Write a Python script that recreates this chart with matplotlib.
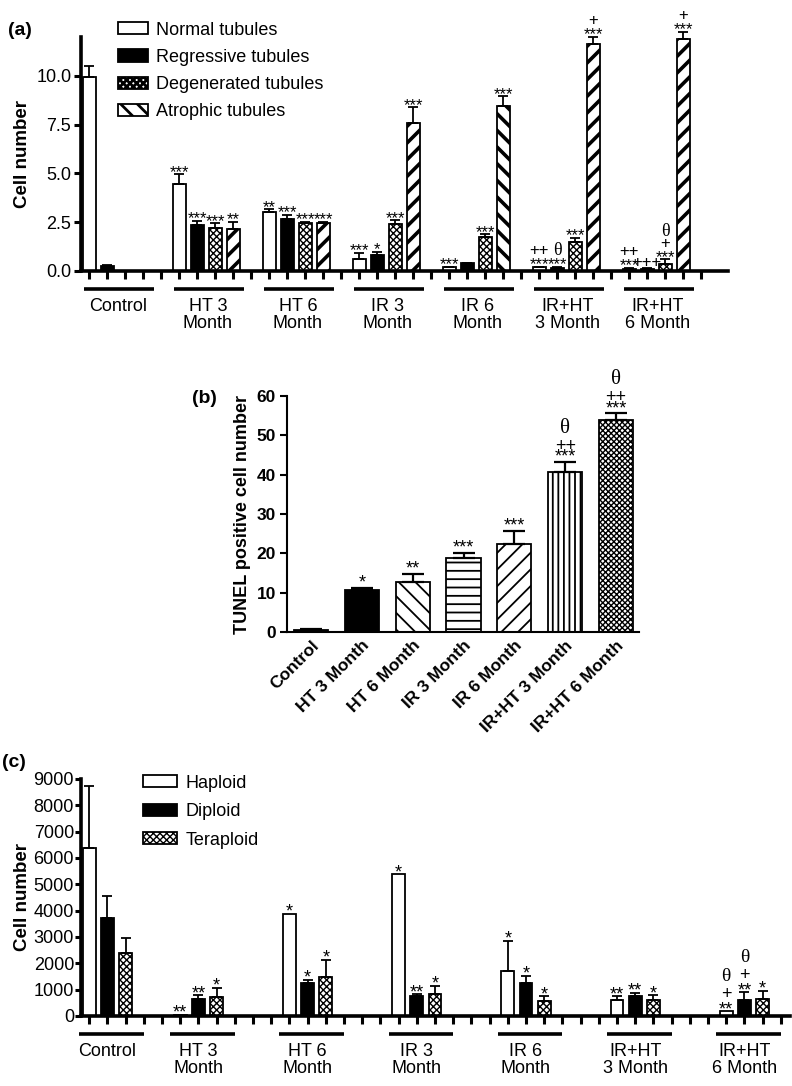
import numpy as np
import matplotlib
matplotlib.use('Agg')
import matplotlib.pyplot as plt
import matplotlib.patches as mpatches

plt.rcParams['font.family'] = ['Liberation Sans', 'DejaVu Sans']
plt.rcParams['hatch.color'] = 'black'

## panel (a) data - tubules
groups_a = ['Control', 'HT 3\nMonth', 'HT 6\nMonth', 'IR 3\nMonth', 'IR 6\nMonth',
            'IR+HT\n3 Month', 'IR+HT\n6 Month']
tubule_types = ['Normal tubules', 'Regressive tubules', 'Degenerated tubules', 'Atrophic tubules']
normal = [9.95, 4.48, 3.0, 0.6, 0.19, 0.19, 0.12]
normal_err = [0.55, 0.48, 0.16, 0.34, 0.03, 0.03, 0.03]
regressive = [0.25, 2.34, 2.67, 0.8, 0.39, 0.17, 0.12]
regressive_err = [0.07, 0.24, 0.2, 0.19, 0.02, 0.03, 0.02]
degenerated = [0, 2.22, 2.48, 2.41, 1.73, 1.47, 0.38]
degenerated_err = [0, 0.22, 0.03, 0.19, 0.15, 0.22, 0.22]
atrophic = [0, 2.15, 2.48, 7.6, 8.44, 11.66, 11.88]
atrophic_err = [0, 0.38, 0.03, 0.8, 0.52, 0.34, 0.38]
normal_sig = ['', '***', '**', '***', '***', '++\n***', '++\n***']
regressive_sig = ['', '***', '***', '*', '', '\u03b8\n***', '+++']
degenerated_sig = ['', '***', '***', '***', '***', '***', '\u03b8\n+\n***']
atrophic_sig = ['', '**', '***', '***', '***', '+\n***', '+\n***']

## panel (b) data - TUNEL
groups_b = ['Control', 'HT 3 Month', 'HT 6 Month', 'IR 3 Month', 'IR 6 Month',
            'IR+HT 3 Month', 'IR+HT 6 Month']
tunel = [0.5, 10.6, 12.7, 18.8, 22.4, 40.8, 53.8]
tunel_err = [0.2, 0.6, 2.1, 1.4, 3.4, 2.4, 1.8]
tunel_sig = ['', '*', '**', '***', '***', '\u03b8\n++\n***', '\u03b8\n++\n***']

## panel (c) data - ploidy
groups_c = ['Control', 'HT 3\nMonth', 'HT 6\nMonth', 'IR 3\nMonth', 'IR 6\nMonth',
            'IR+HT\n3 Month', 'IR+HT\n6 Month']
ploidy_types = ['Haploid', 'Diploid', 'Teraploid']
haploid = [6367, 50, 3873, 5380, 1722, 608, 177]
haploid_err = [2367, 0, 0, 0, 1139, 139, 0]
diploid = [3722, 660, 1240, 772, 1253, 772, 620]
diploid_err = [848, 125, 127, 51, 266, 114, 279]
teraploid = [2380, 734, 1494, 823, 582, 608, 646]
teraploid_err = [595, 329, 633, 329, 165, 177, 316]
haploid_sig = ['', '**', '*', '*', '*', '**', '\u03b8\n+\n**']
diploid_sig = ['', '**', '*', '**', '*', '**', '\u03b8\n+\n**']
teraploid_sig = ['', '*', '*', '*', '*', '*', '*']

PX = 72 / 100.0  # points per pixel
centre = {'star': 0.57, 'plus': 0.35, 'theta': 0.36}


def sig(ax, x, y, s, size, theta_size, gaps):
    # stacked marks, bottom line first; gaps are pixel distances between glyph centres
    pos = 0
    for i, line in enumerate(s.split('\n')[::-1]):
        kind = 'theta' if '\u03b8' in line else ('star' if '*' in line else 'plus')
        pos = gaps['first'] if i == 0 else pos + gaps[kind]
        fs = theta_size if kind == 'theta' else size
        fam = ['Liberation Serif', 'DejaVu Serif'] if kind == 'theta' else ['Liberation Sans']
        base = pos - centre[kind] * fs / PX
        ax.annotate(line, (x, y), xytext=(0, base * PX), textcoords='offset points',
                    ha='center', va='baseline', fontsize=fs, family=fam,
                    annotation_clip=False)


def bars(ax, x, vals, errs, width, face, hatch, hlw, cap, elw=1.3):
    with plt.rc_context({'hatch.linewidth': hlw}):
        b = ax.bar(x, vals, width, color=face, edgecolor='black', linewidth=1.3,
                   hatch=hatch, zorder=2)
    for p in b:
        if hasattr(p, 'set_hatch_linewidth'):
            p.set_hatch_linewidth(hlw)
    v = np.array(vals, float)
    e = np.array(errs, float)
    m = e > 0
    ax.errorbar(np.array(x)[m], v[m], yerr=[np.zeros(m.sum()), e[m]], fmt='none',
                ecolor='black', elinewidth=elw, capsize=cap, capthick=elw, zorder=3,
                clip_on=False)
    return b


fig = plt.figure(figsize=(7.92, 10.86), dpi=100)

# ---------------- (a) ----------------
ax = fig.add_axes([0.1023, 0.7505, 0.817, 0.2155])
n = len(groups_a)
series_a = [(normal, normal_err, normal_sig, 'white', None, 1.0),
            (regressive, regressive_err, regressive_sig, 'black', None, 1.0),
            (degenerated, degenerated_err, degenerated_sig, 'white', 'xxxxx', 1.0),
            (atrophic, atrophic_err, atrophic_sig, 'white', None, 2.6)]
atro_hatch = ['//', '//', '//', '//', '\\\\', '//', '//']
gaps_a = {'first': 7, 'star': 10.5, 'plus': 10.5, 'theta': 12}
for j, (vals, errs, sigs, face, hatch, hlw) in enumerate(series_a):
    xs = [5 * g + j for g in range(n)]
    if j == 3:
        for g in range(n):
            bars(ax, [xs[g]], [vals[g]], [errs[g]], 0.72, face, atro_hatch[g], hlw, 3.5)
    else:
        bars(ax, xs, vals, errs, 0.72, face, hatch, hlw, 3.5)
    for g in range(n):
        if sigs[g]:
            sig(ax, xs[g], vals[g] + errs[g], sigs[g], 12, 13, gaps_a)

ax.set_xlim(-0.45, 35.5)
ax.set_ylim(0, 12)
ax.set_yticks([0, 2.5, 5, 7.5, 10])
ax.set_yticklabels(['0.0', '2.5', '5.0', '7.5', '10.0'])
ax.set_xticks(np.arange(35))
ax.set_xticklabels([])
for s in ['top', 'right']:
    ax.spines[s].set_visible(False)
for s in ['left', 'bottom']:
    ax.spines[s].set_linewidth(2.6)
ax.tick_params(axis='y', direction='out', length=5, width=2.2, labelsize=13, pad=2)
ax.tick_params(axis='x', direction='out', length=6, width=2.2)
ax.set_ylabel('Cell number', fontsize=13.5, fontweight='bold', labelpad=4)
tr = ax.get_xaxis_transform()
for g, lab in enumerate(groups_a):
    ax.plot([5 * g - 0.3, 5 * g + 3.6], [-0.077, -0.077], color='black', lw=2.6,
            transform=tr, clip_on=False, solid_capstyle='butt')
    ax.text(5 * g + 1.6, -0.115, lab, transform=tr, ha='center', va='top',
            fontsize=13, linespacing=1.0)
handles_a = [mpatches.Patch(facecolor='white', edgecolor='black', lw=1.3),
             mpatches.Patch(facecolor='black', edgecolor='black', lw=1.3),
             mpatches.Patch(facecolor='white', edgecolor='black', lw=1.3, hatch='xxxxx'),
             mpatches.Patch(facecolor='white', edgecolor='black', lw=1.3, hatch='\\\\')]
with plt.rc_context({'hatch.linewidth': 2.0}):
    fig.legend(handles_a, tubule_types, loc='upper left', bbox_to_anchor=(0.149, 0.980),
               frameon=False, fontsize=13, handlelength=1.65, handleheight=0.65,
               labelspacing=0.56, handletextpad=0.45, borderpad=0, borderaxespad=0)
fig.text(0.010, 0.972, '(a)', fontsize=14, fontweight='bold', va='center')

# ---------------- (b) ----------------
bx = fig.add_axes([0.3624, 0.418, 0.4444, 0.2173])
b_faces = ['black', 'black', 'white', 'white', 'white', 'white', 'white']
b_hatch = [None, None, '\\\\', '--', '//', '|||', 'xxxxxx']
b_hlw = [1.0, 1.0, 1.3, 1.3, 1.3, 1.3, 1.0]
gaps_b = {'first': 10.5, 'star': 7, 'plus': 7, 'theta': 19}
for i in range(len(groups_b)):
    bars(bx, [i], [tunel[i]], [tunel_err[i]], 0.67, b_faces[i], b_hatch[i], b_hlw[i], 8, elw=1.6)
    if tunel_sig[i]:
        sig(bx, i, tunel[i] + tunel_err[i], tunel_sig[i], 13, 15, gaps_b)
bx.set_xlim(-0.47, 6.45)
bx.set_ylim(0, 60)
bx.set_yticks(np.arange(0, 61, 10))
bx.set_xticks(np.arange(len(groups_b)))
bx.set_xticklabels(groups_b, rotation=45, ha='right', rotation_mode='anchor',
                   fontsize=12.5, fontweight='bold')
for t in bx.get_yticklabels():
    t.set_fontweight('bold')
for s in ['top', 'right']:
    bx.spines[s].set_visible(False)
for s in ['left', 'bottom']:
    bx.spines[s].set_linewidth(1.5)
bx.tick_params(axis='y', direction='out', length=5, width=1.5, labelsize=12.5, pad=3)
bx.tick_params(axis='x', length=0, pad=4)
bx.set_ylabel('TUNEL positive cell number', fontsize=13, fontweight='bold', labelpad=4)
fig.text(0.242, 0.633, '(b)', fontsize=14, fontweight='bold', va='center')

# ---------------- (c) ----------------
cx = fig.add_axes([0.1023, 0.0645, 0.895, 0.2182])
starts_c = [0, 5, 11, 17, 23, 29, 35]
series_c = [(haploid, haploid_err, haploid_sig, 'white', None, 1.0),
            (diploid, diploid_err, diploid_sig, 'black', None, 1.0),
            (teraploid, teraploid_err, teraploid_sig, 'white', 'xxxxx', 1.0)]
gaps_c = {'first': 7.5, 'star': 11.5, 'plus': 11.5, 'theta': 18.5}
for j, (vals, errs, sigs, face, hatch, hlw) in enumerate(series_c):
    xs = [s + j for s in starts_c]
    bars(cx, xs, vals, errs, 0.7, face, hatch, hlw, 3.5)
    for g in range(len(starts_c)):
        if sigs[g]:
            sig(cx, xs[g], vals[g] + errs[g], sigs[g], 13, 14, gaps_c)
cx.set_xlim(-0.45, 38.5)
cx.set_ylim(0, 9000)
cx.set_yticks(np.arange(0, 9001, 1000))
cx.set_xticks(np.arange(39))
cx.set_xticklabels([])
for s in ['top', 'right']:
    cx.spines[s].set_visible(False)
for s in ['left', 'bottom']:
    cx.spines[s].set_linewidth(2.6)
cx.tick_params(axis='y', direction='out', length=4, width=2.2, labelsize=13, pad=1)
cx.tick_params(axis='x', direction='out', length=6, width=2.2)
cx.set_ylabel('Cell number', fontsize=13.5, fontweight='bold', labelpad=2)
tr = cx.get_xaxis_transform()
for g, lab in enumerate(groups_c):
    s0 = starts_c[g]
    cx.plot([s0 - 0.55, s0 + 3.0], [-0.076, -0.076], color='black', lw=2.6,
            transform=tr, clip_on=False, solid_capstyle='butt')
    cx.text(s0 + 1.0, -0.115, lab, transform=tr, ha='center', va='top',
            fontsize=13, linespacing=1.0)
handles_c = [mpatches.Patch(facecolor='white', edgecolor='black', lw=1.3),
             mpatches.Patch(facecolor='black', edgecolor='black', lw=1.3),
             mpatches.Patch(facecolor='white', edgecolor='black', lw=1.3, hatch='xxxxx')]
fig.legend(handles_c, ploidy_types, loc='upper left', bbox_to_anchor=(0.1806, 0.2868),
           frameon=False, fontsize=13, handlelength=1.9, handleheight=0.65,
           labelspacing=0.64, handletextpad=0.45, borderpad=0, borderaxespad=0)
fig.text(0.002, 0.298, '(c)', fontsize=14, fontweight='bold', va='center')

fig.savefig('out.png', dpi=100)
